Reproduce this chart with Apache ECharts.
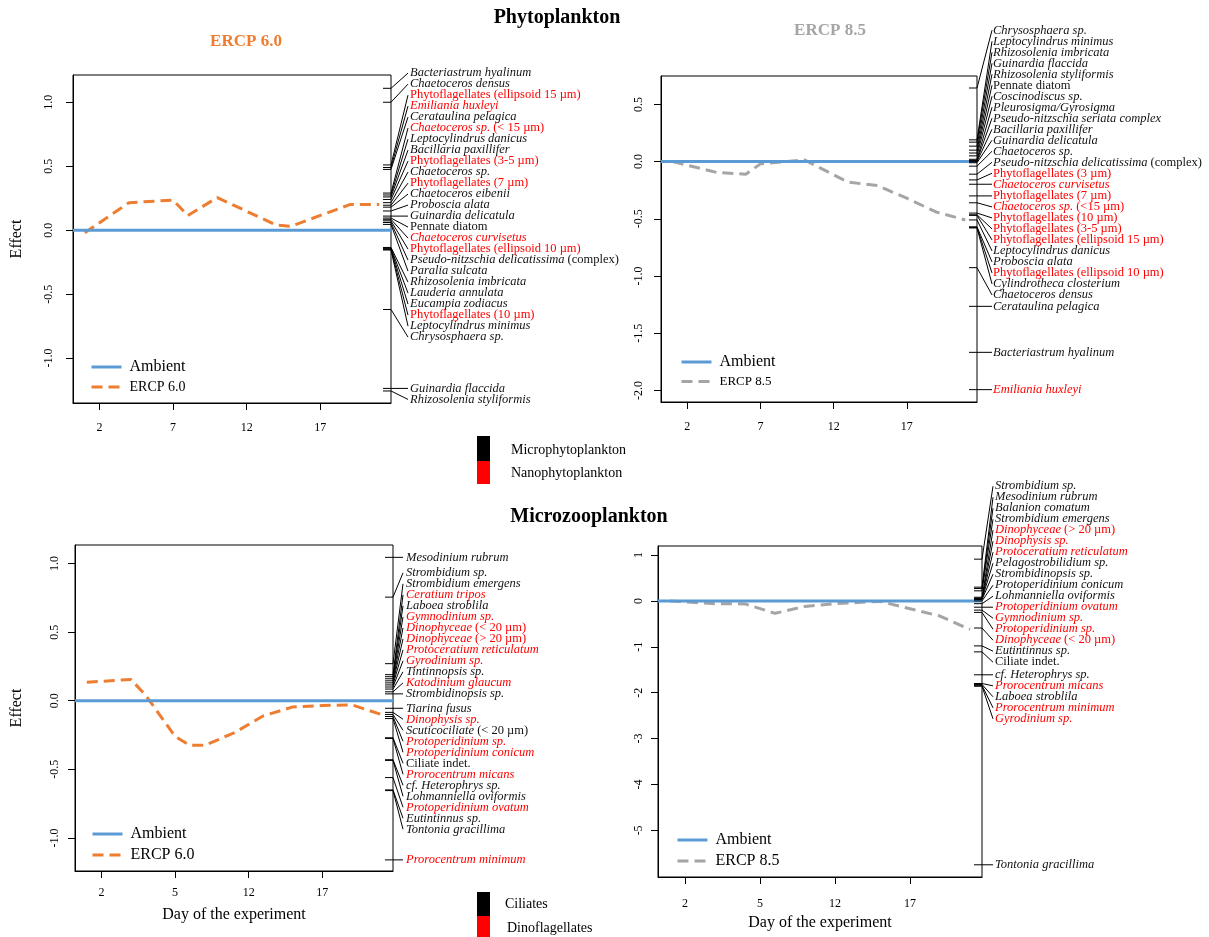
<!DOCTYPE html>
<html>
<head>
<meta charset="utf-8">
<title>PRC plots</title>
<script src="https://cdn.jsdelivr.net/npm/echarts@6/dist/echarts.min.js"></script>
<style>
html, body { margin: 0; padding: 0; background: #fff; }
#main { width: 1209px; height: 937px; }
</style>
</head>
<body>
<div id="main"></div>
<script>
var FONT = '"Liberation Serif", "Times New Roman", serif';

// x axis ticks (day of the experiment)
var dayTicks = [2, 7, 12, 17];
var phytoDayLabels = ['2', '7', '12', '17'];
var zooDayLabels = ['2', '5', '12', '17'];

// principal response curves
var phytoDays60 = [1, 4, 7, 8, 10, 14, 15, 19, 21];
var phytoEff60 = [-0.02, 0.215, 0.235, 0.115, 0.255, 0.04, 0.03, 0.2, 0.2];
var phytoDays85 = [1, 4, 6, 7, 10, 13, 15, 17, 19, 21];
var phytoEff85 = [0, -0.095, -0.11, -0.02, 0.015, -0.18, -0.21, -0.32, -0.44, -0.51];
var zooDays60 = [1, 4, 5, 7, 8, 9, 11, 13, 15, 17, 19, 21];
var zooEff60 = [0.135, 0.155, 0.04, -0.26, -0.325, -0.325, -0.235, -0.11, -0.045, -0.035, -0.03, -0.1];
var zooDays85 = [1, 4, 6, 8, 10, 12, 15, 17, 19, 21];
var zooEff85 = [0, -0.06, -0.065, -0.27, -0.12, -0.06, -0.01, -0.17, -0.33, -0.62];

// species scores (text between * is italic), red = nano / dinoflagellates
var phyto60Names = ['*Bacteriastrum hyalinum*', '*Chaetoceros densus*', 'Phytoflagellates (ellipsoid 15 µm)',
  '*Emiliania huxleyi*', '*Cerataulina pelagica*', '*Chaetoceros sp.* (< 15 µm)', '*Leptocylindrus danicus*',
  '*Bacillaria paxillifer*', 'Phytoflagellates (3-5 µm)', '*Chaetoceros sp.*', 'Phytoflagellates (7 µm)',
  '*Chaetoceros eibenii*', '*Proboscia alata*', '*Guinardia delicatula*', 'Pennate diatom',
  '*Chaetoceros curvisetus*', 'Phytoflagellates (ellipsoid 10 µm)', '*Pseudo-nitzschia delicatissima* (complex)',
  '*Paralia sulcata*', '*Rhizosolenia imbricata*', '*Lauderia annulata*', '*Eucampia zodiacus*',
  'Phytoflagellates (10 µm)', '*Leptocylindrus minimus*', '*Chrysosphaera sp.*', '*Guinardia flaccida*',
  '*Rhizosolenia styliformis*'];
var phyto60Scores = [1.109, 1.0, 0.51, 0.49, 0.475, 0.29, 0.275, 0.26, 0.24, 0.215, 0.195, 0.18, 0.15, 0.11,
  0.095, 0.085, 0.073, 0.06, 0.045, -0.135, -0.14, -0.145, -0.15, -0.155, -0.62, -1.237, -1.257];
var phyto60Red = [0, 0, 1, 1, 0, 1, 0, 0, 1, 0, 1, 0, 0, 0, 0, 1, 1, 0, 0, 0, 0, 0, 1, 0, 0, 0, 0];

var phyto85Names = ['*Chrysosphaera sp.*', '*Leptocylindrus minimus*', '*Rhizosolenia imbricata*',
  '*Guinardia flaccida*', '*Rhizosolenia styliformis*', 'Pennate diatom', '*Coscinodiscus sp.*',
  '*Pleurosigma/Gyrosigma*', '*Pseudo-nitzschia seriata complex*', '*Bacillaria paxillifer*',
  '*Guinardia delicatula*', '*Chaetoceros sp.*', '*Pseudo-nitzschia delicatissima* (complex)',
  'Phytoflagellates (3 µm)', '*Chaetoceros curvisetus*', 'Phytoflagellates (7 µm)', '*Chaetoceros sp.* (<15 µm)',
  'Phytoflagellates (10 µm)', 'Phytoflagellates (3-5 µm)', 'Phytoflagellates (ellipsoid 15 µm)',
  '*Leptocylindrus danicus*', '*Proboscia alata*', 'Phytoflagellates (ellipsoid 10 µm)',
  '*Cylindrotheca closterium*', '*Chaetoceros densus*', '*Cerataulina pelagica*', '*Bacteriastrum hyalinum*',
  '*Emiliania huxleyi*'];
var phyto85Scores = [0.643, 0.19, 0.17, 0.135, 0.1, 0.075, 0.05, 0.02, 0.01, 0, -0.01, -0.04, -0.11, -0.16,
  -0.198, -0.3, -0.36, -0.45, -0.465, -0.47, -0.51, -0.57, -0.575, -0.58, -0.927, -1.265, -1.667, -1.993];
var phyto85Red = [0, 0, 0, 0, 0, 0, 0, 0, 0, 0, 0, 0, 0, 1, 1, 1, 1, 1, 1, 1, 0, 0, 1, 0, 0, 0, 0, 1];

var zoo60Names = ['*Mesodinium rubrum*', '*Strombidium sp.*', '*Strombidium emergens*', '*Ceratium tripos*',
  '*Laboea stroblila*', '*Gymnodinium sp.*', '*Dinophyceae* (< 20 µm)', '*Dinophyceae* (> 20 µm)',
  '*Protoceratium reticulatum*', '*Gyrodinium sp.*', '*Tintinnopsis sp.*', '*Katodinium glaucum*',
  '*Strombidinopsis sp.*', '*Tiarina fusus*', '*Dinophysis sp.*', '*Scuticociliate* (< 20 µm)',
  '*Protoperidinium sp.*', '*Protoperidinium conicum*', 'Ciliate indet.', '*Prorocentrum micans*',
  '*cf. Heterophrys sp.*', '*Lohmanniella oviformis*', '*Protoperidinium ovatum*', '*Eutintinnus sp.*',
  '*Tontonia gracillima*', '*Prorocentrum minimum*'];
var zoo60Scores = [1.045, 0.755, 0.27, 0.19, 0.175, 0.16, 0.145, 0.13, 0.115, 0.1, 0.085, 0.065, 0.05, -0.055,
  -0.085, -0.1, -0.115, -0.13, -0.27, -0.275, -0.43, -0.435, -0.56, -0.65, -0.655, -1.16];
var zoo60Red = [0, 0, 0, 1, 0, 1, 1, 1, 1, 1, 0, 1, 0, 0, 1, 0, 1, 1, 0, 1, 0, 0, 1, 0, 0, 1];

var zoo85Names = ['*Strombidium sp.*', '*Mesodinium rubrum*', '*Balanion comatum*', '*Strombidium emergens*',
  '*Dinophyceae* (> 20 µm)', '*Dinophysis sp.*', '*Protoceratium reticulatum*', '*Pelagostrobilidium sp.*',
  '*Strombidinopsis sp.*', '*Protoperidinium conicum*', '*Lohmanniella oviformis*', '*Protoperidinium ovatum*',
  '*Gymnodinium sp.*', '*Protoperidinium sp.*', '*Dinophyceae* (< 20 µm)', '*Eutintinnus sp.*',
  'Ciliate indet.', '*cf. Heterophrys sp.*', '*Prorocentrum micans*', '*Laboea stroblila*',
  '*Prorocentrum minimum*', '*Gyrodinium sp.*', '*Tontonia gracillima*'];
var zoo85Scores = [0.91, 0.3, 0.27, 0.22, 0.08, 0.06, 0.05, 0.04, 0.03, 0, -0.06, -0.137, -0.2, -0.25, -0.59,
  -0.98, -1.11, -1.61, -1.8, -1.82, -1.84, -1.86, -5.75];
var zoo85Red = [0, 0, 0, 0, 1, 1, 1, 0, 0, 0, 0, 1, 1, 1, 1, 0, 0, 0, 1, 0, 1, 1, 0];

var XMIN = 0.2, XMAX = 21.8;
var BLUE = '#5B9BD5', ORANGE = '#ED7D31', GREY = '#A5A5A5';
var LABEL_SIZE = 12.5;

// spread labels like vegan::linestack (pixel space)
function stackLabels(ys, ht) {
  var n = ys.length;
  var ord = ys.map(function (_, j) { return j; });
  ord.sort(function (a, b) { return (ys[b] - ys[a]) || (a - b); });
  var pos = new Array(n);
  var mid = Math.floor((n + 1) / 2) - 1;
  pos[ord[mid]] = ys[ord[mid]];
  for (var k = mid + 1; k < n; k++) pos[ord[k]] = Math.min(ys[ord[k]], pos[ord[k - 1]] - ht);
  for (k = mid - 1; k >= 0; k--) pos[ord[k]] = Math.max(ys[ord[k]], pos[ord[k + 1]] + ht);
  return pos;
}

function richText(name) {
  var parts = name.split('*'), out = '';
  for (var k = 0; k < parts.length; k++) {
    if (!parts[k]) continue;
    out += '{' + (k % 2 ? 'i' : 'n') + '|' + parts[k] + '}';
  }
  return out;
}

function speciesSeries(i, names, scores, red, hoff, gap) {
  return {
    type: 'custom', xAxisIndex: i, yAxisIndex: i, silent: true, clip: false, z: 6,
    data: scores.map(function (s) { return [XMAX, s]; }),
    renderItem: function (params, api) {
      var j = params.dataIndex;
      var right = api.coord([XMAX, 0])[0];
      var ys = scores.map(function (s) { return api.coord([XMAX, s])[1]; });
      var pos = stackLabels(ys, 11);
      var y = ys[j], p = pos[j];
      var col = red[j] ? '#FF0000' : '#111';
      return {
        type: 'group',
        children: [
          { type: 'line', shape: { x1: right - 8, y1: y, x2: right, y2: y }, style: { stroke: '#000', lineWidth: 1 } },
          { type: 'line', shape: { x1: right, y1: y, x2: right + hoff, y2: p }, style: { stroke: '#000', lineWidth: 1 } },
          {
            type: 'text', x: right + gap, y: p,
            style: {
              text: richText(names[j]), fill: col, fontFamily: FONT, fontSize: LABEL_SIZE,
              align: 'left', verticalAlign: 'middle', textAlign: 'left', textVerticalAlign: 'middle',
              rich: {
                i: { fontStyle: 'italic', fontFamily: FONT, fontSize: LABEL_SIZE, fill: col },
                n: { fontFamily: FONT, fontSize: LABEL_SIZE, fill: col }
              }
            }
          }
        ]
      };
    }
  };
}

function xAxisFor(i, labels, margin, nameGap) {
  return {
    type: 'value', gridIndex: i, min: XMIN, max: XMAX,
    axisLine: { show: true, onZero: false, lineStyle: { color: '#000', width: 1 } },
    axisTick: { show: true, customValues: dayTicks, length: 7, lineStyle: { color: '#000' } },
    axisLabel: {
      customValues: dayTicks, margin: margin, fontFamily: FONT, fontSize: 12, color: '#000',
      formatter: function (v) { var k = dayTicks.indexOf(v); return k < 0 ? '' : labels[k]; }
    },
    splitLine: { show: false },
    name: nameGap ? 'Day of the experiment' : '', nameLocation: 'middle', nameGap: nameGap || 0,
    nameTextStyle: { fontFamily: FONT, fontSize: 16, color: '#000' }
  };
}

function yAxisFor(i, min, max, ticks, dec, margin, nameGap) {
  return {
    type: 'value', gridIndex: i, min: min, max: max,
    axisLine: { show: true, onZero: false, lineStyle: { color: '#000', width: 1 } },
    axisTick: { show: true, customValues: ticks, length: 7, lineStyle: { color: '#000' } },
    axisLabel: {
      customValues: ticks, rotate: 90, margin: margin, fontFamily: FONT, fontSize: 12, color: '#000',
      formatter: function (v) { return v.toFixed(dec); }
    },
    splitLine: { show: false },
    name: nameGap ? 'Effect' : '', nameLocation: 'middle', nameRotate: 90, nameGap: nameGap || 0,
    nameTextStyle: { fontFamily: FONT, fontSize: 16, color: '#000' }
  };
}

function curves(i, name, color, days, vals) {
  return [
    {
      name: name, type: 'line', xAxisIndex: i, yAxisIndex: i, symbol: 'none', silent: true, z: 3,
      data: days.map(function (d, k) { return [d, vals[k]]; }),
      itemStyle: { color: color }, lineStyle: { color: color, width: 3, type: [11, 6] }
    },
    {
      name: 'Ambient', type: 'line', xAxisIndex: i, yAxisIndex: i, symbol: 'none', silent: true, z: 4,
      data: [[XMIN, 0], [XMAX, 0]],
      itemStyle: { color: BLUE }, lineStyle: { color: BLUE, width: 3 }
    }
  ];
}

function legendAt(left, top, name, size2) {
  return {
    left: left, top: top, orient: 'vertical', itemWidth: 30, itemHeight: 12, itemGap: 5,
    selectedMode: false,
    itemStyle: { opacity: 0, borderWidth: 0 },
    lineStyle: { width: 3 },
    textStyle: { fontFamily: FONT, fontSize: 16, color: '#000', padding: [0, 0, 0, 3] },
    data: [{ name: 'Ambient' }, { name: name, textStyle: { fontSize: size2 } }]
  };
}

var gridBox = { show: true, borderColor: '#000', borderWidth: 1, backgroundColor: 'transparent' };

var chart = echarts.init(document.getElementById('main'));
var option = {
  animation: false,
  backgroundColor: '#fff',
  grid: [
    Object.assign({ left: 73, top: 75, width: 318, height: 328 }, gridBox),
    Object.assign({ left: 661, top: 76, width: 316, height: 326 }, gridBox),
    Object.assign({ left: 75, top: 545, width: 318, height: 326 }, gridBox),
    Object.assign({ left: 658, top: 546, width: 324, height: 331 }, gridBox)
  ],
  xAxis: [
    xAxisFor(0, phytoDayLabels, 19, 0),
    xAxisFor(1, phytoDayLabels, 19, 0),
    xAxisFor(2, zooDayLabels, 16, 36),
    xAxisFor(3, zooDayLabels, 21, 38)
  ],
  yAxis: [
    yAxisFor(0, -1.351, 1.213, [-1, -0.5, 0, 0.5, 1], 1, 18, 48),
    yAxisFor(1, -2.101, 0.748, [-2, -1.5, -1, -0.5, 0, 0.5], 1, 16, 0),
    yAxisFor(2, -1.241, 1.135, [-1, -0.5, 0, 0.5, 1], 1, 14, 50),
    yAxisFor(3, -6.016, 1.197, [-5, -4, -3, -2, -1, 0, 1], 0, 13, 0)
  ],
  legend: [
    legendAt(85, 354, 'ERCP 6.0', 14),
    legendAt(675, 349, 'ERCP 8.5', 13),
    legendAt(86, 821, 'ERCP 6.0', 16),
    legendAt(671, 827, 'ERCP 8.5', 16)
  ],
  series: [].concat(
    curves(0, 'ERCP 6.0', ORANGE, phytoDays60, phytoEff60),
    curves(1, 'ERCP 8.5', GREY, phytoDays85, phytoEff85),
    curves(2, 'ERCP 6.0', ORANGE, zooDays60, zooEff60),
    curves(3, 'ERCP 8.5', GREY, zooDays85, zooEff85),
    [
      speciesSeries(0, phyto60Names, phyto60Scores, phyto60Red, 17, 19),
      speciesSeries(1, phyto85Names, phyto85Scores, phyto85Red, 15, 16),
      speciesSeries(2, zoo60Names, zoo60Scores, zoo60Red, 10, 13),
      speciesSeries(3, zoo85Names, zoo85Scores, zoo85Red, 11, 13)
    ]
  ),
  graphic: [
    { type: 'text', x: 557, y: 18, style: { text: 'Phytoplankton', font: 'bold 20px ' + FONT, fill: '#000', align: 'center', verticalAlign: 'middle', textAlign: 'center', textVerticalAlign: 'middle' } },
    { type: 'text', x: 246, y: 42, style: { text: 'ERCP 6.0', font: 'bold 17px ' + FONT, fill: ORANGE, align: 'center', verticalAlign: 'middle', textAlign: 'center', textVerticalAlign: 'middle' } },
    { type: 'text', x: 830, y: 31, style: { text: 'ERCP 8.5', font: 'bold 17px ' + FONT, fill: GREY, align: 'center', verticalAlign: 'middle', textAlign: 'center', textVerticalAlign: 'middle' } },
    { type: 'text', x: 589, y: 517, style: { text: 'Microzooplankton', font: 'bold 20px ' + FONT, fill: '#000', align: 'center', verticalAlign: 'middle', textAlign: 'center', textVerticalAlign: 'middle' } },
    { type: 'rect', shape: { x: 477, y: 436, width: 13, height: 25 }, style: { fill: '#000' } },
    { type: 'rect', shape: { x: 477, y: 461, width: 13, height: 23 }, style: { fill: '#FF0000' } },
    { type: 'text', x: 511, y: 450, style: { text: 'Microphytoplankton', font: '14px ' + FONT, fill: '#000', verticalAlign: 'middle', textVerticalAlign: 'middle' } },
    { type: 'text', x: 511, y: 473, style: { text: 'Nanophytoplankton', font: '14px ' + FONT, fill: '#000', verticalAlign: 'middle', textVerticalAlign: 'middle' } },
    { type: 'rect', shape: { x: 477, y: 892, width: 13, height: 24 }, style: { fill: '#000' } },
    { type: 'rect', shape: { x: 477, y: 916, width: 13, height: 21 }, style: { fill: '#FF0000' } },
    { type: 'text', x: 505, y: 904, style: { text: 'Ciliates', font: '14px ' + FONT, fill: '#000', verticalAlign: 'middle', textVerticalAlign: 'middle' } },
    { type: 'text', x: 507, y: 928, style: { text: 'Dinoflagellates', font: '14px ' + FONT, fill: '#000', verticalAlign: 'middle', textVerticalAlign: 'middle' } }
  ]
};
chart.setOption(option);
</script>
</body>
</html>
